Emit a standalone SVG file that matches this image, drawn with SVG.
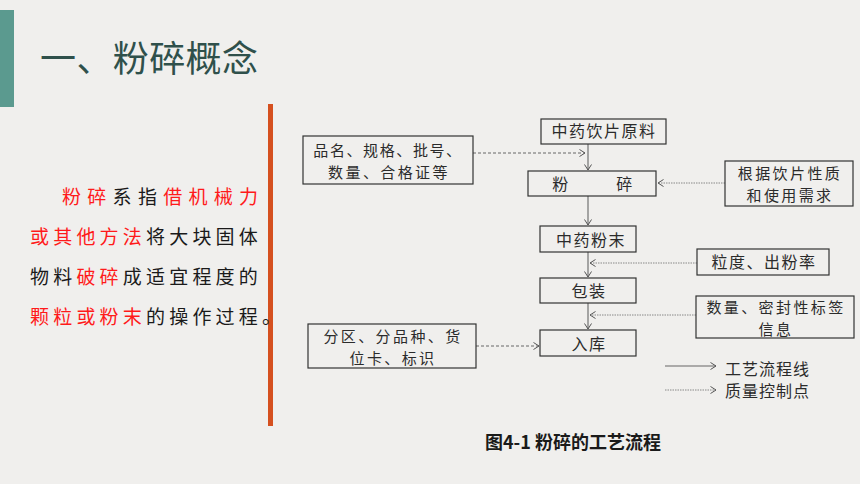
<svg xmlns="http://www.w3.org/2000/svg" width="860" height="484" viewBox="0 0 860 484">
<defs>
<style>
.cn{font-family:"Noto Sans CJK SC","Noto Sans",sans-serif}
.body{font-size:19px;fill:#1a1a1a}
.red{fill:#ff1a1a}
.node rect{fill:none;stroke:#333;stroke-width:1.2}
.node text{font-size:16px;fill:#2b2b2b;text-anchor:middle;letter-spacing:1.5px}
.node text.two{font-size:15px;letter-spacing:2.4px}
.flow{stroke:#666;stroke-width:1.1;fill:none}
.dash{stroke:#666;stroke-width:1;stroke-dasharray:3 2;fill:none}
.dot{stroke:#888;stroke-width:1;stroke-dasharray:1.5 1;fill:none}
.legend{font-size:16px;fill:#2b2b2b;letter-spacing:1px}
</style>
<marker id="ah" markerWidth="8" markerHeight="8" refX="6" refY="4" orient="auto" markerUnits="userSpaceOnUse">
<path d="M0.5,0.5 L6,4 L0.5,7.5" fill="none" stroke="#555" stroke-width="1"/>
</marker>
</defs>
<rect width="860" height="484" fill="#f0efed"/>
<rect x="0" y="10" width="14" height="97" fill="#5b9a8f"/>
<text class="cn" x="40" y="72" font-size="36" fill="#2f504b" letter-spacing="0.4">一、粉碎概念</text>
<rect x="268" y="104" width="5" height="322" fill="#d5501f"/>

<g id="body-text" class="cn body">
<text x="62" y="204" letter-spacing="6.3"><tspan class="red">粉碎</tspan>系指<tspan class="red">借机械力</tspan></text>
<text x="30" y="244" letter-spacing="4.2"><tspan class="red">或其他方法</tspan>将大块固体</text>
<text x="30" y="284" letter-spacing="4.2">物料<tspan class="red">破碎</tspan>成适宜程度的</text>
<text x="30" y="324" letter-spacing="4.2"><tspan class="red">颗粒或粉末</tspan>的操作过程。</text>
</g>

<g id="connectors">
<line class="flow" x1="588" y1="144" x2="588" y2="170" marker-end="url(#ah)"/>
<line class="flow" x1="588" y1="196" x2="588" y2="225" marker-end="url(#ah)"/>
<line class="flow" x1="588" y1="252" x2="588" y2="277" marker-end="url(#ah)"/>
<line class="flow" x1="588" y1="303" x2="588" y2="329" marker-end="url(#ah)"/>
<line class="dash" x1="473" y1="153" x2="585" y2="153" marker-end="url(#ah)"/>
<line class="dash" x1="476" y1="346" x2="539" y2="346" marker-end="url(#ah)"/>
<line class="dot" x1="725" y1="183" x2="658" y2="183" marker-end="url(#ah)"/>
<line class="dot" x1="697" y1="263" x2="590" y2="263" marker-end="url(#ah)"/>
<line class="dot" x1="696" y1="315" x2="590" y2="315" marker-end="url(#ah)"/>
<line class="flow" x1="665" y1="366" x2="716" y2="366" marker-end="url(#ah)"/>
<line class="dot" x1="665" y1="390" x2="716" y2="390" marker-end="url(#ah)"/>
</g>

<g id="n-raw" class="node cn"><rect x="541" y="119" width="125" height="25"/><text x="604" y="137">中药饮片原料</text></g>
<g id="n-crush" class="node cn"><rect x="528" y="171" width="128" height="25"/><text x="561" y="190">粉</text><text x="625" y="190">碎</text></g>
<g id="n-powder" class="node cn"><rect x="540" y="226" width="96" height="26"/><text x="591" y="246">中药粉末</text></g>
<g id="n-pack" class="node cn"><rect x="540" y="278" width="96" height="25"/><text x="589" y="297">包装</text></g>
<g id="n-store" class="node cn"><rect x="540" y="330" width="96" height="26"/><text x="589" y="350">入库</text></g>

<g id="n-info" class="node cn"><rect x="303" y="136" width="170" height="48"/><text class="two" x="388" y="156" style="letter-spacing:1.6px">品名、规格、批号、</text><text class="two" x="389" y="178">数量、合格证等</text></g>
<g id="n-zone" class="node cn"><rect x="308" y="324" width="168" height="44"/><text class="two" x="393" y="342">分区、分品种、货</text><text class="two" x="393" y="364">位卡、标识</text></g>
<g id="n-basis" class="node cn"><rect x="725" y="161" width="128" height="45"/><text class="two" x="790" y="179">根据饮片性质</text><text class="two" x="790" y="201">和使用需求</text></g>
<g id="n-size" class="node cn"><rect x="697" y="249" width="132" height="26"/><text x="764" y="268">粒度、出粉率</text></g>
<g id="n-seal" class="node cn"><rect x="696" y="296" width="158" height="42"/><text class="two" x="776" y="313">数量、密封性标签</text><text class="two" x="776" y="335">信息</text></g>

<g id="legend" class="cn legend">
<text x="725" y="375">工艺流程线</text>
<text x="725" y="397">质量控制点</text>
</g>
<text class="cn" x="573" y="449" text-anchor="middle" font-size="18" font-weight="bold" fill="#1a1a1a">图4-1 粉碎的工艺流程</text>
</svg>
